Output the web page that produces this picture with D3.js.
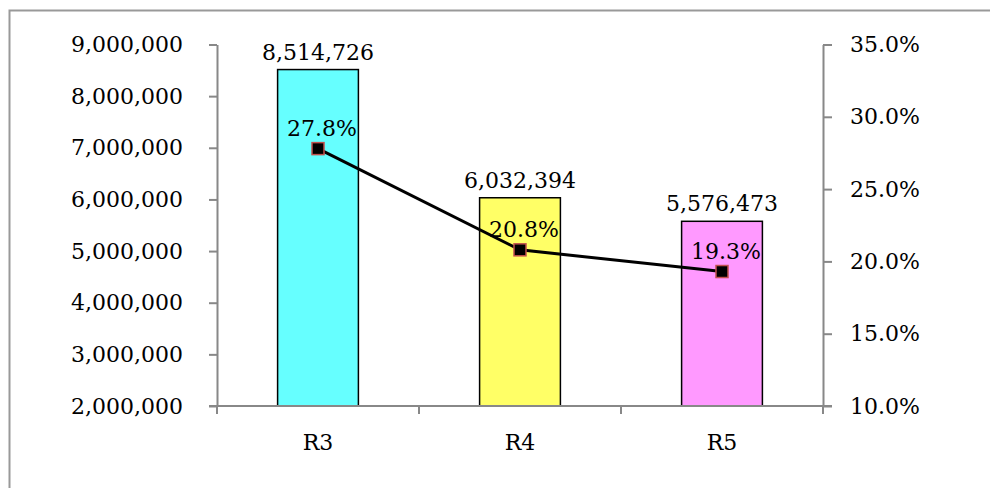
<!DOCTYPE html>
<html>
<head>
<meta charset="utf-8">
<script src="https://cdn.jsdelivr.net/npm/d3@7"></script>
<style>
  body { margin: 0; background: #fff; }
  text { font-family: "DejaVu Serif", serif; fill: #000; }
</style>
</head>
<body>
<div class="chart"></div>
<script>
var svgWidth = 990;
var svgHeight = 488;

// chart data
var categories = ["R3", "R4", "R5"];
var counts = [8514726, 6032394, 5576473];
var shares = [27.8, 20.8, 19.3];
var barColors = ["#66ffff", "#ffff66", "#ff99ff"];
var leftTicks = [2000000, 3000000, 4000000, 5000000, 6000000, 7000000, 8000000, 9000000];
var rightTicks = [10, 15, 20, 25, 30, 35];

var plot = { left: 217, right: 823, top: 44.5, bottom: 406 };

var svg = d3.select(".chart")
  .append("svg")
  .attr("width", svgWidth)
  .attr("height", svgHeight);

// outer frame
svg.append("rect")
  .attr("x", 9.5).attr("y", 10.5)
  .attr("width", 1000).attr("height", 1000)
  .attr("fill", "none")
  .attr("stroke", "#999")
  .attr("stroke-width", 2);

var x = d3.scaleBand()
  .domain(categories)
  .range([plot.left, plot.right]);

var yLeft = d3.scaleLinear()
  .domain([2000000, 9000000])
  .range([plot.bottom, plot.top]);

var yRight = d3.scaleLinear()
  .domain([10, 35])
  .range([plot.bottom, plot.top]);

var fmtNum = d3.format(",");
var axisColor = "#888";

// bars
var barW = x.bandwidth() * 0.4;
svg.selectAll("rect.bar")
  .data(counts)
  .enter()
  .append("rect")
  .attr("class", "bar")
  .attr("x", (d, i) => x(categories[i]) + x.bandwidth() / 2 - barW / 2)
  .attr("y", d => yLeft(d))
  .attr("width", barW)
  .attr("height", d => plot.bottom - yLeft(d))
  .attr("fill", (d, i) => barColors[i])
  .attr("stroke", "#000")
  .attr("stroke-width", 1.5);

// left axis
var leftAxis = svg.append("g")
  .attr("transform", `translate(${plot.left},0)`)
  .call(d3.axisLeft(yLeft).tickValues(leftTicks).tickFormat(fmtNum).tickSize(8).tickSizeOuter(0).tickPadding(26));

// right axis
var rightAxis = svg.append("g")
  .attr("transform", `translate(${plot.right},0)`)
  .call(d3.axisRight(yRight).tickValues(rightTicks).tickFormat(d => d.toFixed(1) + "%").tickSize(9).tickSizeOuter(0).tickPadding(18));

// bottom axis
var bottomAxis = svg.append("g")
  .attr("transform", `translate(0,${plot.bottom})`)
  .call(d3.axisBottom(x).tickSize(0).tickPadding(28));

// bottom ticks on the band edges
bottomAxis.selectAll("line.edge")
  .data([plot.left, plot.left + x.bandwidth(), plot.left + 2 * x.bandwidth(), plot.right])
  .enter()
  .append("line")
  .attr("class", "edge")
  .attr("x1", d => d).attr("x2", d => d)
  .attr("y1", 0).attr("y2", 8)
  .attr("stroke", axisColor)
  .attr("stroke-width", 2);

[leftAxis, rightAxis, bottomAxis].forEach(function (g) {
  g.selectAll("path.domain").attr("stroke", axisColor).attr("stroke-width", 2);
  g.selectAll(".tick line").attr("stroke", axisColor).attr("stroke-width", 2);
  g.selectAll(".tick text")
    .style("font-family", "DejaVu Serif, serif")
    .style("font-size", "22px")
    .attr("fill", "#000");
});
bottomAxis.select("path.domain").attr("d", `M${plot.left - 8},0H${plot.right + 9}`);

// bar value labels
svg.selectAll("text.barlabel")
  .data(counts)
  .enter()
  .append("text")
  .attr("class", "barlabel")
  .attr("x", (d, i) => x(categories[i]) + x.bandwidth() / 2)
  .attr("y", d => yLeft(d) - 10)
  .attr("text-anchor", "middle")
  .style("font-size", "22px")
  .text(d => fmtNum(d));

// line for share
var cx = (d, i) => x(categories[i]) + x.bandwidth() / 2;
var line = d3.line()
  .x((d, i) => cx(d, i))
  .y(d => yRight(d));

svg.append("path")
  .datum(shares)
  .attr("d", line)
  .attr("fill", "none")
  .attr("stroke", "#000")
  .attr("stroke-width", 3);

svg.selectAll("rect.marker")
  .data(shares)
  .enter()
  .append("rect")
  .attr("class", "marker")
  .attr("x", (d, i) => cx(d, i) - 6)
  .attr("y", d => yRight(d) - 6)
  .attr("width", 12)
  .attr("height", 12)
  .attr("fill", "#000")
  .attr("stroke", "#c0504d")
  .attr("stroke-width", 1.5);

svg.selectAll("text.sharelabel")
  .data(shares)
  .enter()
  .append("text")
  .attr("class", "sharelabel")
  .attr("x", (d, i) => cx(d, i) + 4)
  .attr("y", d => yRight(d) - 13)
  .attr("text-anchor", "middle")
  .style("font-size", "22px")
  .text(d => d.toFixed(1) + "%");
</script>
</body>
</html>
